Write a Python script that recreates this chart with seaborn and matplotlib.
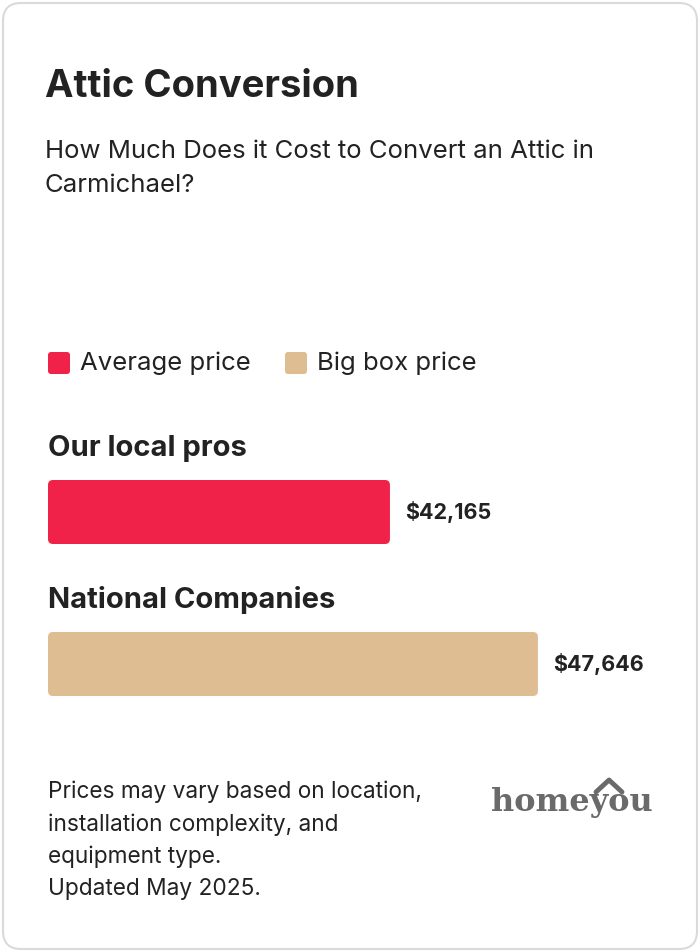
import matplotlib
matplotlib.use('Agg')
import matplotlib.pyplot as plt
import seaborn as sns
import pandas as pd
from matplotlib.patches import FancyBboxPatch
from matplotlib.transforms import IdentityTransform

categories = ["Our local pros", "National Companies"]
prices = [42165, 47646]
series = ["Average price", "Big box price"]
colors = ["#F0224A", "#DFBD92"]

W, H = 700, 952
sns.set_theme(style="white")
plt.rcParams['font.family'] = ['Inter', 'DejaVu Sans']

fig = plt.figure(figsize=(W / 100, H / 100), dpi=100)
fig.patch.set_facecolor("white")

def px(x, y):
    return x / W, 1 - y / H

# card border (no fill, so it doesn't cover the axes)
fig.add_artist(FancyBboxPatch((3, 3), W - 6, H - 6, boxstyle="round,pad=0,rounding_size=18",
                              transform=IdentityTransform(), fc="none", ec="#DADADA", lw=1.5))

dark = "#222222"
fig.text(*px(45, 87), "Attic Conversion", fontsize=27.5, weight="bold", color=dark, va="center")
fig.text(*px(45, 152), "How Much Does it Cost to Convert an Attic in", fontsize=18.5, color=dark, va="center")
fig.text(*px(45, 186), "Carmichael?", fontsize=18.5, color=dark, va="center")

# legend
for (x, label), c in zip([(48, series[0]), (285, series[1])], colors):
    fig.add_artist(FancyBboxPatch((x, H - 374), 22, 22, boxstyle="round,pad=0,rounding_size=3",
                                  transform=IdentityTransform(), fc=c, ec="none"))
    fig.text(*px(x + 32, 363), label, fontsize=18.5, color=dark, va="center")

# bars
df = pd.DataFrame({"category": categories, "price": prices, "series": series})
ax = fig.add_axes([48 / W, (H - 740) / H, 600 / W, 304 / H])
sns.barplot(data=df, x="price", y="category", hue="series", palette=colors, saturation=1,
            width=64 / 152, dodge=False, legend=False, ax=ax)
ax.set_xlim(29500, 29500 + 600 / 0.027)
ax.set_ylim(1.5, -0.5)
ax.axis("off")
ax.patch.set_alpha(0)

fig.canvas.draw()
renderer = fig.canvas.get_renderer()
axbb = ax.get_window_extent(renderer)
r = 5
for p in list(ax.patches):
    w = p.get_width()
    if not w == w or w <= 0:
        continue
    bb = p.get_window_extent(renderer)
    x0 = max(bb.x0, axbb.x0)
    fig.add_artist(FancyBboxPatch((x0, bb.y0), bb.x1 - x0, bb.height,
                                  boxstyle=f"round,pad=0,rounding_size={r}",
                                  transform=IdentityTransform(), fc=p.get_facecolor(), ec="none"))
    ax.text(p.get_x() + w + 550, p.get_y() + p.get_height() / 2, f"${w:,.0f}",
            fontsize=15.5, weight="bold", color=dark, va="center")
    p.set_visible(False)

for y, cat in zip([448, 600], categories):
    fig.text(*px(48, y), cat, fontsize=21, weight="bold", color=dark, va="center")

# footer
for y, line in zip([792, 825, 857, 889], ["Prices may vary based on location,",
                                          "installation complexity, and",
                                          "equipment type.", "Updated May 2025."]):
    fig.text(*px(48, y), line, fontsize=16.3, color=dark, va="center")

# logo
fig.text(*px(572, 803), "homeyou", fontsize=23, weight="bold", color="#6A6A6A",
         family="DejaVu Serif", ha="center", va="center")
fig.add_artist(plt.Line2D([596 / W, 609 / W, 622 / W], [1 - 792 / H, 1 - 780 / H, 1 - 792 / H],
                          transform=fig.transFigure, color="#6A6A6A", lw=3.5))

fig.savefig("out.png", dpi=100)
